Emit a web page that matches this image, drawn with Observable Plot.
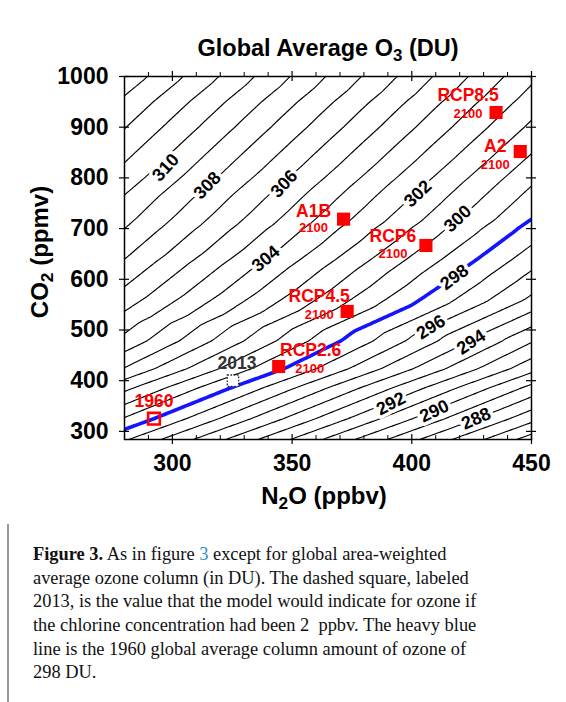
<!DOCTYPE html>
<html><head><meta charset="utf-8">
<script src="https://cdn.jsdelivr.net/npm/d3@7"></script>
<script src="https://cdn.jsdelivr.net/npm/@observablehq/plot@0.6"></script>
<style>
body{margin:0;background:#fff;width:566px;height:702px;overflow:hidden;position:relative;font-family:"Liberation Sans",Arial,sans-serif;}
#chart{position:absolute;left:0;top:0;}
.t{position:absolute;font-weight:bold;color:#000;white-space:nowrap;line-height:1;}
sub{font-size:72%;vertical-align:-0.28em;line-height:0;}
#title{left:328px;top:37px;font-size:23.5px;transform:translateX(-50%);}
#xlab{left:324px;top:484px;font-size:24px;transform:translateX(-50%);}
#ylab{left:40px;top:252px;font-size:24px;transform:translate(-50%,-50%) rotate(-90deg);}
#cap{position:absolute;left:33px;top:543px;font-family:"Liberation Serif","Times New Roman",serif;font-size:18.4px;line-height:23.65px;color:#111;white-space:nowrap;}
#bar{position:absolute;left:7px;top:524px;width:2px;height:178px;background:#9a9a9a;}
</style></head>
<body>
<div id="chart"></div>
<div class="t" id="title">Global Average O<sub>3</sub> (DU)</div>
<div class="t" id="xlab">N<sub>2</sub>O (ppbv)</div>
<div class="t" id="ylab">CO<sub>2</sub> (ppmv)</div>
<div id="bar"></div>
<div id="cap"><b>Figure 3.</b> As in figure <span style="color:#2b8fd0">3</span> except for global area-weighted<br>average ozone column (in DU). The dashed square, labeled<br>2013, is the value that the model would indicate for ozone if<br>the chlorine concentration had been 2&nbsp; ppbv. The heavy blue<br>line is the 1960 global average column amount of ozone of<br>298 DU.</div>
<script>
// Ozone field (DU), on CO2 rows at two N2O columns
const co2Rows = [260,284,304,325,356,386,424,479,520,562,600,640,700,719,760,800,850,900,950,1000,1020];
const o3AtN2O270 = [296.83,297.87,298.74,299.65,300.86,302.03,303.69,305.45,306.31,307.25,307.95,308.68,309.67,309.97,310.56,311.22,311.96,312.71,313.46,314.31,314.62];
const o3AtN2O460 = [282.76,283.80,284.67,285.58,286.79,287.96,289.62,291.38,292.75,294.15,294.97,295.79,296.95,297.34,297.97,298.58,299.37,300.14,300.86,301.56,301.83];
const contourLevels = [285,286,287,288,289,290,291,292,293,294,295,296,297,299,300,301,302,303,304,305,306,307,308,309,310,311,312,313,314];
const heavyLevel = [298];

// contour labels
const labelValues = [310,308,306,304,302,300,298,296,294,292,290,288];
const labelN2O   = [297.2,314.6,346.7,339.0,402.5,419.2,417.8,408.0,424.8,391.3,409.4,426.9];
const labelCO2   = [820.5,785.0,788.4,640.5,768.7,719.4,604.2,505.6,476.0,354.6,340.0,325.0];
const labelAngle = [-47,-46,-47,-40,-44,-43,-36,-32,-33,-27,-25,-24];

// scenarios (year 2100)
const scenNames = ["RCP8.5","A2","A1B","RCP6","RCP4.5","RCP2.6"];
const scenN2O   = [435.2,445.3,371.5,405.9,373.0,344.4];
const scenCO2   = [929,852,718.6,666.7,536.6,428];
const scenYear  = ["2100","2100","2100","2100","2100","2100"];
// historical points
const histNames = ["1960","2013"];
const histN2O = [292.3,325.3];
const histCO2 = [325,400];

const xTicks = [300,350,400,450];
const xMinor = [290,310,320,330,340,360,370,380,390,410,420,430,440];
const yTicks = [300,400,500,600,700,800,900,1000];

// layout of scenario labels (pixel offsets)
const nameOff = [[-28,-17],[-25,-5],[-30,-8],[-33,-9],[-28,-15],[32,-16]];
const yearOff = [[-28,1],[-25,13],[-30,9],[-33,8],[-28,3],[31,2]];

const grid = co2Rows.flatMap((c,i)=>[
  {n2o:270, co2:c, o3:o3AtN2O270[i]},
  {n2o:460, co2:c, o3:o3AtN2O460[i]}
]);
const labels = labelValues.map((v,i)=>({v, n2o:labelN2O[i], co2:labelCO2[i], a:labelAngle[i]}));
const scen = scenNames.map((s,i)=>({s, n2o:scenN2O[i], co2:scenCO2[i], y:scenYear[i], no:nameOff[i], yo:yearOff[i]}));
const hist = histNames.map((t,i)=>({t, n:histN2O[i], c:histCO2[i]}));

const W = 566, H = 520, ML = 124, MR = 35, MT = 76, MB = 81;
const FW = W-ML-MR, FH = H-MT-MB;
const red = "#ff0000";
const font = "Liberation Sans, Arial, sans-serif";

const contourOpts = {x:"n2o", y:"co2", value:"o3", interpolate:"barycentric", x1:270, x2:460, y1:260, y2:1020, fill:"none", clip:true};

const chart = Plot.plot({
  width: W, height: H,
  marginLeft: ML, marginRight: MR, marginTop: MT, marginBottom: MB,
  style: {fontFamily: font, background: "white"},
  x: {domain: [280,450]},
  y: {domain: [284,1000]},
  marks: [
    Plot.contour(grid, {...contourOpts, thresholds: contourLevels, stroke:"black", strokeWidth:1.15}),
    Plot.contour(grid, {...contourOpts, thresholds: heavyLevel, stroke:"#1414ff", strokeWidth:3.6}),
    Plot.text(labels, {x:"n2o", y:"co2", text:d=>String(d.v), rotate:"a", fontSize:18, fontWeight:"bold", fill:"black", stroke:"white", strokeWidth:7, paintOrder:"stroke"}),
    // historical markers
    Plot.dot([hist[0]], {x:"n", y:"c", symbol:"square", r:6.6, stroke:red, strokeWidth:2.6, fill:"none"}),
    Plot.dot([hist[1]], {x:"n", y:"c", symbol:"square", r:6.4, stroke:"#222", strokeWidth:1.3, strokeDasharray:"1.6,1.6", fill:"white"}),
    Plot.text([hist[0]], {x:"n", y:"c", text:"t", dy:-17, fontSize:17.5, fontWeight:"bold", fill:red}),
    Plot.text([hist[1]], {x:"n", y:"c", text:"t", dx:4, dy:-17, fontSize:17.5, fontWeight:"bold", fill:"#333"}),
    // scenario markers
    Plot.dot(scen, {x:"n2o", y:"co2", symbol:"square", r:7.4, fill:red}),
    ...scen.map(d=>Plot.text([d], {x:"n2o", y:"co2", text:"s", dx:d.no[0], dy:d.no[1], fontSize:17.5, fontWeight:"bold", fill:red})),
    ...scen.map(d=>Plot.text([d], {x:"n2o", y:"co2", text:"y", dx:d.yo[0], dy:d.yo[1], fontSize:13, fontWeight:"bold", fill:red})),
    // ticks
    Plot.tickY(yTicks, {y:d=>d, insetRight:FW-5, stroke:"black", strokeWidth:1.2}),
    Plot.tickY(yTicks, {y:d=>d, insetLeft:FW-5, insetRight:-5, stroke:"black", strokeWidth:1.2}),
    Plot.tickX(xTicks, {x:d=>d, insetTop:FH-5, stroke:"black", strokeWidth:1.2}),
    Plot.tickX(xTicks, {x:d=>d, insetBottom:FH-5, insetTop:-5, stroke:"black", strokeWidth:1.2}),
    Plot.tickX(xMinor, {x:d=>d, insetTop:FH-4, stroke:"black", strokeWidth:1}),
    Plot.tickX(xMinor, {x:d=>d, insetBottom:FH, insetTop:-4, stroke:"black", strokeWidth:1}),
    Plot.axisX({ticks:xTicks, tickFormat:d=>String(d), tickSize:5, tickPadding:10, fontSize:23, fontWeight:"bold", label:null, strokeWidth:1.2}),
    Plot.axisY({ticks:yTicks, tickFormat:d=>String(d), tickSize:5, tickPadding:11, fontSize:23, fontWeight:"bold", label:null, strokeWidth:1.2}),
    Plot.frame({stroke:"black", strokeWidth:1.5})
  ]
});
document.getElementById("chart").appendChild(chart);
</script>
</body></html>
